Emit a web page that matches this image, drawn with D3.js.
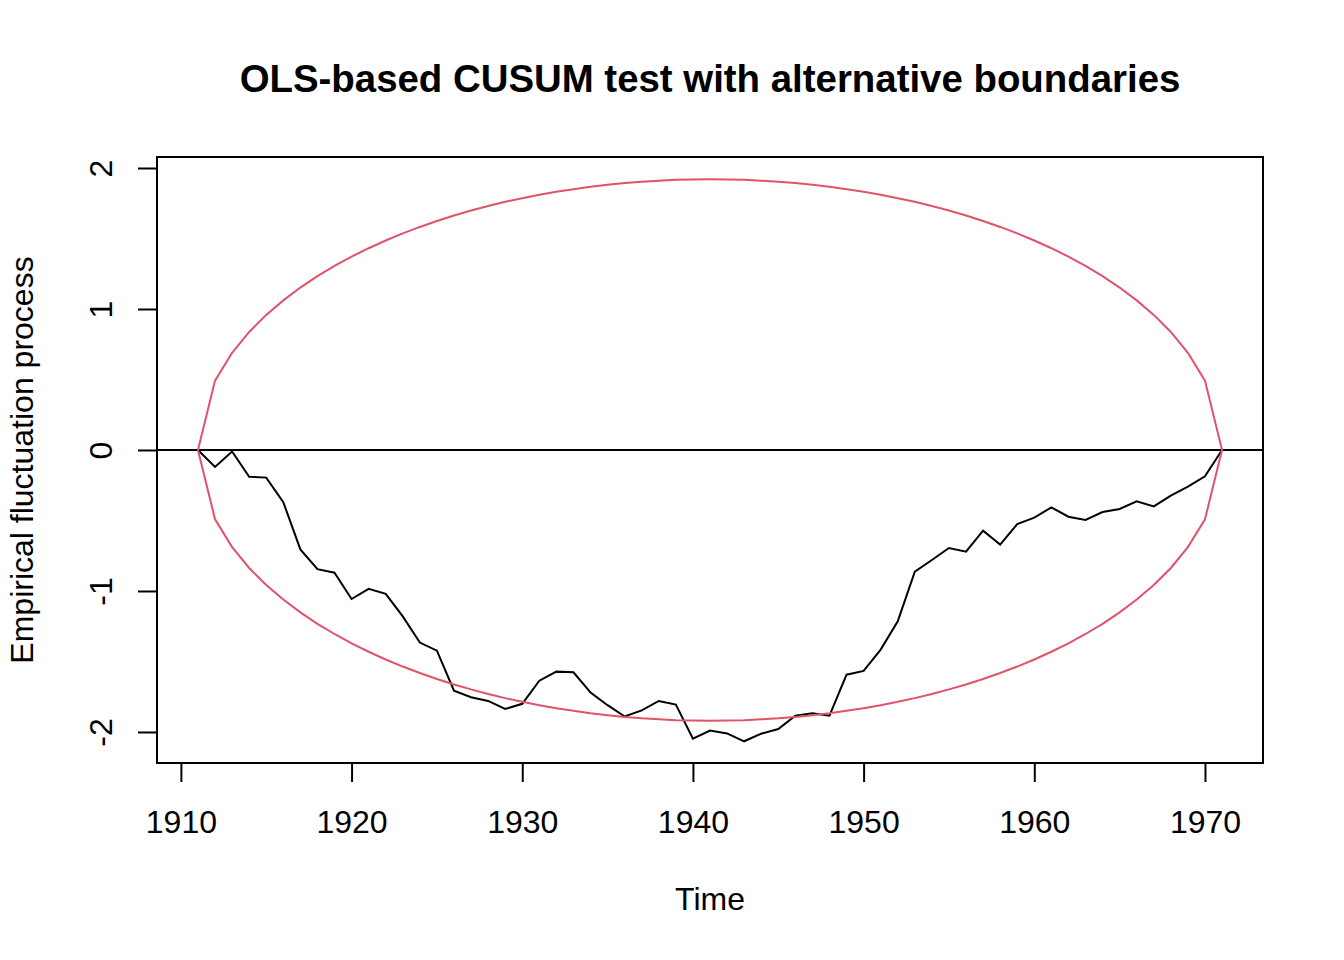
<!DOCTYPE html>
<html>
<head>
<meta charset="utf-8">
<script src="https://cdn.jsdelivr.net/npm/d3@7"></script>
<style>
  body { margin: 0; background: #fff; }
  text { font-family: "Liberation Sans", Arial, Helvetica, sans-serif; }
</style>
</head>
<body>
<svg id="chart" width="1344" height="960"></svg>
<script>
// data
var years = d3.range(1911, 1972);

var process = [
	0, -0.12, -0.01, -0.19, -0.196, -0.37, -0.705, -0.845, -0.87, -1.057,
	-0.985, -1.02, -1.18, -1.366, -1.423, -1.707, -1.754, -1.78, -1.837, -1.80,
	-1.636, -1.572, -1.577, -1.72, -1.81, -1.89, -1.847, -1.78, -1.806, -2.047,
	-1.99, -2.01, -2.066, -2.012, -1.979, -1.884, -1.868, -1.884, -1.594, -1.567,
	-1.416, -1.215, -0.863, -0.78, -0.695, -0.721, -0.572, -0.671, -0.525, -0.48,
	-0.407, -0.473, -0.496, -0.44, -0.418, -0.364, -0.40, -0.324, -0.26, -0.187,
	0
];

var boundary = [
	0, 0.492, 0.689, 0.837, 0.958, 1.061, 1.152, 1.233, 1.305, 1.371,
	1.431, 1.486, 1.536, 1.582, 1.624, 1.663, 1.698, 1.730, 1.760, 1.786,
	1.810, 1.832, 1.850, 1.867, 1.881, 1.893, 1.903, 1.910, 1.916, 1.919,
	1.920, 1.919, 1.916, 1.910, 1.903, 1.893, 1.881, 1.867, 1.850, 1.832,
	1.810, 1.786, 1.760, 1.730, 1.698, 1.663, 1.624, 1.582, 1.536, 1.486,
	1.431, 1.371, 1.305, 1.233, 1.152, 1.061, 0.958, 0.837, 0.689, 0.492,
	0
];

var xTicks = [1910, 1920, 1930, 1940, 1950, 1960, 1970];
var yTicks = [-2, -1, 0, 1, 2];

var svg = d3.select("#chart");

var plotLeft = 157, plotRight = 1263, plotTop = 157, plotBottom = 763;
var fontSize = 32, tickLen = 19;
var red = "#DF536B";

var xScale = d3.scaleLinear()
				.domain([1908.6, 1973.4])
				.range([plotLeft, plotRight]);

var yScale = d3.scaleLinear()
				.domain([-2.22, 2.078])
				.range([plotBottom, plotTop]);

// axes
var xAxis = d3.axisBottom(xScale)
				.tickValues(xTicks)
				.tickFormat(d3.format("d"))
				.tickSize(tickLen);

var yAxis = d3.axisLeft(yScale)
				.tickValues(yTicks)
				.tickFormat(d => d < 0 ? "-" + Math.abs(d) : d)
				.tickSize(tickLen);

var gx = svg.append("g")
		.attr("transform", "translate(0," + plotBottom + ")")
		.call(xAxis);

var gy = svg.append("g")
		.attr("transform", "translate(" + plotLeft + ",0)")
		.call(yAxis);

[gx, gy].forEach(g => {
	g.select(".domain").remove();
	g.selectAll("line").attr("stroke", "#000").attr("stroke-width", 2);
	g.selectAll("text").attr("font-size", fontSize).attr("fill", "#000");
});

// R draws the axis line from first to last tick
gx.append("line")
	.attr("x1", xScale(xTicks[0]))
	.attr("x2", xScale(xTicks[xTicks.length - 1]))
	.attr("stroke", "#000").attr("stroke-width", 2);

gy.append("line")
	.attr("y1", yScale(yTicks[0]))
	.attr("y2", yScale(yTicks[yTicks.length - 1]))
	.attr("stroke", "#000").attr("stroke-width", 2);

gx.selectAll(".tick text")
	.attr("dy", null)
	.attr("y", 833 - plotBottom);

gy.selectAll(".tick text")
	.attr("text-anchor", "middle")
	.attr("dy", null)
	.attr("x", null)
	.attr("transform", "translate(" + (111.5 - plotLeft) + ",0) rotate(-90)");

// box
svg.append("rect")
	.attr("x", plotLeft).attr("y", plotTop)
	.attr("width", plotRight - plotLeft).attr("height", plotBottom - plotTop)
	.attr("fill", "none")
	.attr("stroke", "#000")
	.attr("stroke-width", 2);

// zero line
svg.append("line")
	.attr("x1", plotLeft).attr("x2", plotRight)
	.attr("y1", yScale(0)).attr("y2", yScale(0))
	.attr("stroke", "#000")
	.attr("stroke-width", 2);

var line = d3.line()
	.x((d, i) => xScale(years[i]))
	.y(d => yScale(d));

svg.append("path")
	.datum(process)
	.attr("d", line)
	.attr("fill", "none")
	.attr("stroke", "#000")
	.attr("stroke-width", 2);

svg.append("path")
	.datum(boundary)
	.attr("d", line)
	.attr("fill", "none")
	.attr("stroke", red)
	.attr("stroke-width", 2);

svg.append("path")
	.datum(boundary.map(d => -d))
	.attr("d", line)
	.attr("fill", "none")
	.attr("stroke", red)
	.attr("stroke-width", 2);

// titles
svg.append("text")
	.attr("x", (plotLeft + plotRight) / 2)
	.attr("y", 92)
	.attr("text-anchor", "middle")
	.attr("font-size", fontSize * 1.2)
	.attr("font-weight", "bold")
	.text("OLS-based CUSUM test with alternative boundaries");

svg.append("text")
	.attr("x", (plotLeft + plotRight) / 2)
	.attr("y", 910)
	.attr("text-anchor", "middle")
	.attr("font-size", fontSize)
	.text("Time");

svg.append("text")
	.attr("transform", "translate(33," + ((plotTop + plotBottom) / 2) + ") rotate(-90)")
	.attr("text-anchor", "middle")
	.attr("font-size", fontSize)
	.text("Empirical fluctuation process");
</script>
</body>
</html>
